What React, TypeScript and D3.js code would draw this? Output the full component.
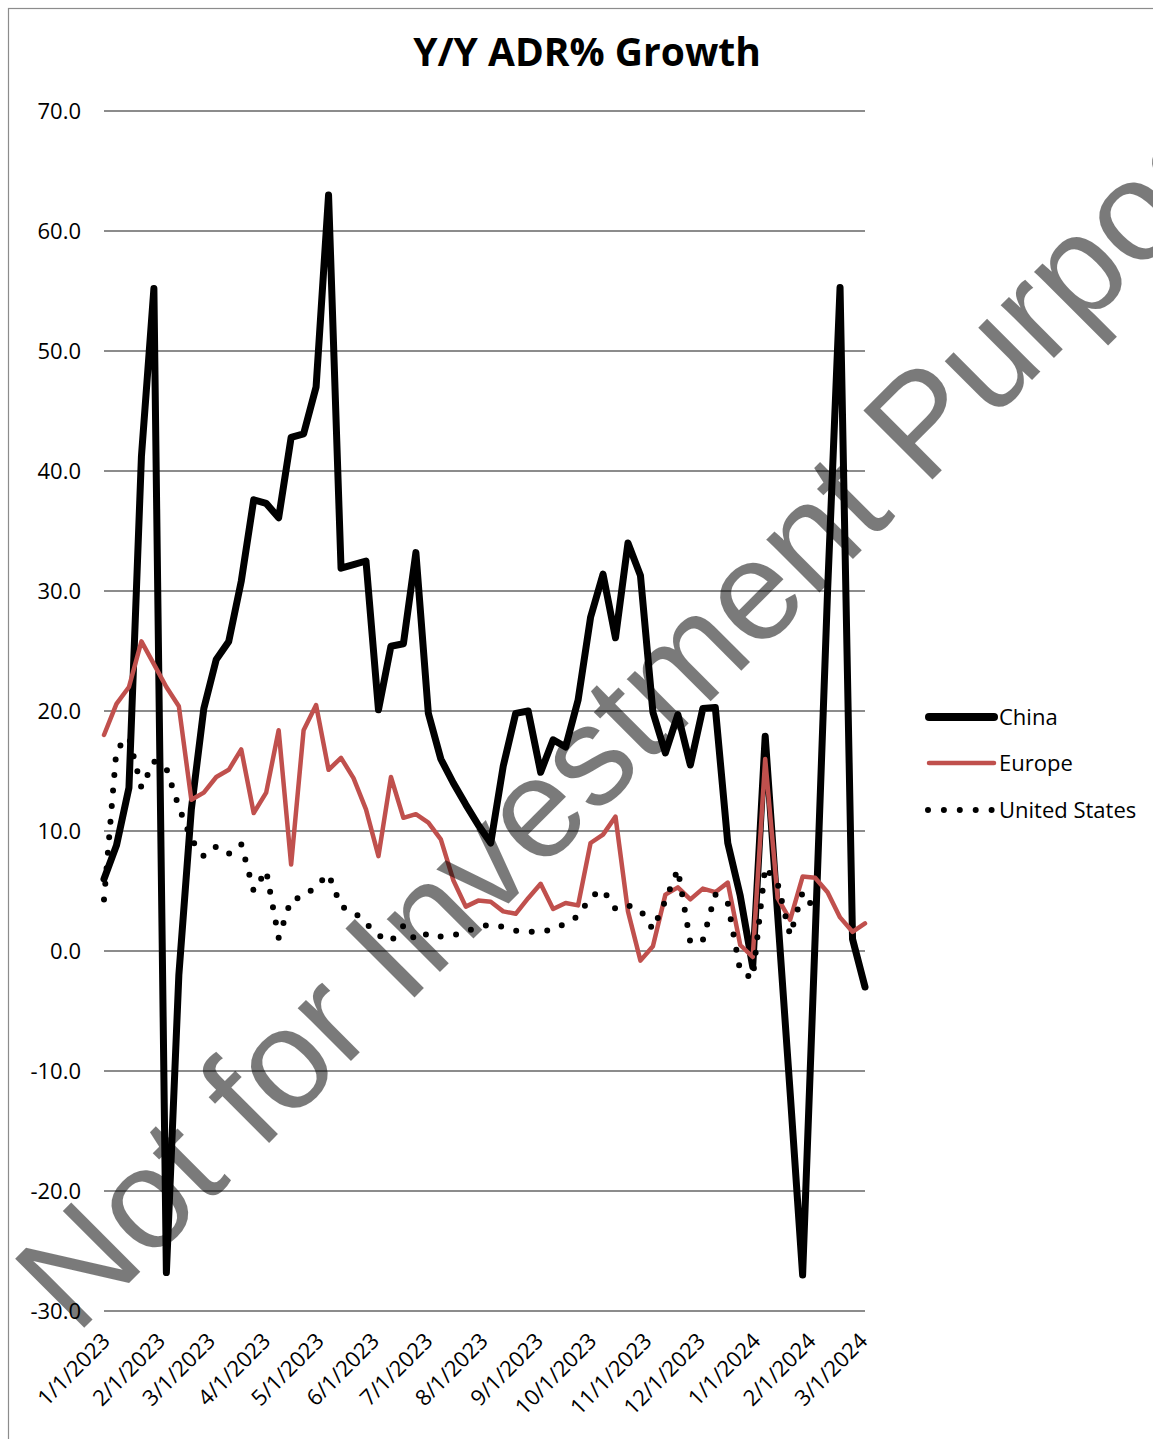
import React from "react";
import * as d3 from "d3";

// Weekly observation dates (week starting)
const weeks: string[] = [
  "2023-01-01", "2023-01-08", "2023-01-15", "2023-01-22", "2023-01-29",
  "2023-02-05", "2023-02-12", "2023-02-19", "2023-02-26",
  "2023-03-05", "2023-03-12", "2023-03-19", "2023-03-26",
  "2023-04-02", "2023-04-09", "2023-04-16", "2023-04-23", "2023-04-30",
  "2023-05-07", "2023-05-14", "2023-05-21", "2023-05-28",
  "2023-06-04", "2023-06-11", "2023-06-18", "2023-06-25",
  "2023-07-02", "2023-07-09", "2023-07-16", "2023-07-23", "2023-07-30",
  "2023-08-06", "2023-08-13", "2023-08-20", "2023-08-27",
  "2023-09-03", "2023-09-10", "2023-09-17", "2023-09-24",
  "2023-10-01", "2023-10-08", "2023-10-15", "2023-10-22", "2023-10-29",
  "2023-11-05", "2023-11-12", "2023-11-19", "2023-11-26",
  "2023-12-03", "2023-12-10", "2023-12-17", "2023-12-24", "2023-12-31",
  "2024-01-07", "2024-01-14", "2024-01-21", "2024-01-28",
  "2024-02-04", "2024-02-11", "2024-02-18", "2024-02-25",
  "2024-03-03",
];

// Y/Y ADR growth, %
const china: number[] = [
  6.0, 8.8, 13.6, 41.2, 55.2, -26.8, -2.0, 11.8, 20.2,
  24.3, 25.8, 30.8, 37.6, 37.3, 36.1, 42.8, 43.1, 47.0,
  63.0, 31.9, 32.2, 32.5, 20.1, 25.4, 25.6, 33.2,
  19.8, 16.0, 14.0, 12.2, 10.5, 9.0, 15.4, 19.8, 20.0,
  14.9, 17.6, 17.0, 20.9, 27.8, 31.4, 26.1, 34.0, 31.3,
  19.9, 16.5, 19.7, 15.5, 20.2, 20.3, 9.0, 4.6, -1.3,
  17.9, 3.0, -11.8, -27.0, 1.0, 30.0, 55.3, 1.0, -3.0,
];

const europe: number[] = [
  18.0, 20.6, 22.0, 25.8, 23.9, 22.0, 20.4, 12.6, 13.2,
  14.5, 15.1, 16.8, 11.5, 13.2, 18.4, 7.2, 18.4, 20.5,
  15.1, 16.1, 14.4, 11.8, 7.9, 14.5, 11.1, 11.4,
  10.7, 9.3, 5.9, 3.7, 4.2, 4.1, 3.3, 3.1, 4.4,
  5.6, 3.5, 4.0, 3.8, 9.0, 9.7, 11.2, 3.3, -0.8,
  0.4, 4.7, 5.3, 4.3, 5.2, 4.9, 5.7, 0.5, -0.5,
  16.0, 4.4, 2.6, 6.2, 6.1, 4.9, 2.8, 1.6, 2.3,
];

const unitedStates: number[] = [
  4.3, 16.8, 17.8, 13.6, 15.8, 15.2, 12.0, 9.3, 7.9,
  8.7, 8.1, 8.9, 5.0, 6.7, 1.1, 4.3, 4.5, 5.4,
  6.4, 3.7, 3.3, 2.3, 1.3, 0.8, 2.1, 0.9,
  1.5, 1.2, 1.3, 1.6, 2.0, 2.2, 2.0, 1.7, 1.6,
  1.6, 1.8, 2.3, 2.9, 4.5, 5.1, 3.5, 3.8, 3.4,
  1.8, 4.2, 6.8, 0.7, 0.9, 4.7, 4.0, -1.7, -2.3,
  7.0, 5.6, 1.3, 4.9, 3.4,
];

const monthLabels: string[] = [
  "1/1/2023", "2/1/2023", "3/1/2023", "4/1/2023", "5/1/2023",
  "6/1/2023", "7/1/2023", "8/1/2023", "9/1/2023", "10/1/2023",
  "11/1/2023", "12/1/2023", "1/1/2024", "2/1/2024", "3/1/2024",
];

const yTicks: number[] = [70, 60, 50, 40, 30, 20, 10, 0, -10, -20, -30];

const seriesNames = ["China", "Europe", "United States"];

const W = 1153;
const H = 1439;
const FONT = "'Open Sans', 'Noto Sans', sans-serif";
const RED = "#C0504D";

function parseMDY(s: string): Date {
  const [m, d, y] = s.split("/").map(Number);
  return new Date(y, m - 1, d);
}

// one decimal, plain hyphen for negatives
const fmt = (v: number) => d3.format(".1f")(v).replace("\u2212", "-");

export default function App() {
  const parse = d3.timeParse("%Y-%m-%d");
  const dates = weeks.map((w) => parse(w) as Date);

  const x = d3
    .scaleTime()
    .domain([dates[0], dates[dates.length - 1]])
    .range([104, 865]);
  const y = d3.scaleLinear().domain([-30, 70]).range([1311, 111]);

  const path = (vals: number[]) =>
    d3
      .line<number>()
      .x((_, i) => x(dates[i]))
      .y((v) => y(v))(vals) || "";

  const [x0, x1] = x.range();
  const legendY = [717, 763, 810];

  return (
    <svg
      width={W}
      height={H}
      viewBox={`0 0 ${W} ${H}`}
      style={{ position: "absolute", left: 0, top: 0, display: "block", background: "#fff" }}
      fontFamily={FONT}
    >
      <rect x={0} y={0} width={W} height={H} fill="#fff" />
      <rect x={8.5} y={8.5} width={W + 40} height={H + 40} fill="none" stroke="#8c8c8c" strokeWidth={1.2} />

      <text x={587} y={66} textAnchor="middle" fontSize={39} fontWeight={700} fill="#000">
        Y/Y ADR% Growth
      </text>

      {/* gridlines and value labels */}
      {yTicks.map((t) => (
        <g key={t}>
          <line x1={x0} x2={x1} y1={y(t)} y2={y(t)} stroke="#8c8c8c" strokeWidth={1.8} />
          <text x={81} y={y(t)} dy="0.35em" textAnchor="end" fontSize={22} fill="#000">
            {fmt(t)}
          </text>
        </g>
      ))}

      {/* date labels */}
      {monthLabels.map((m) => {
        const px = x(parseMDY(m));
        return (
          <text
            key={m}
            transform={`translate(${px + 2},${1337}) rotate(-45)`}
            textAnchor="end"
            dy="0.35em"
            fontSize={22}
            fill="#000"
          >
            {m}
          </text>
        );
      })}

      {/* series */}
      <path d={path(china)} fill="none" stroke="#000" strokeWidth={7} strokeLinejoin="round" strokeLinecap="round" />
      <path d={path(europe)} fill="none" stroke={RED} strokeWidth={4.5} strokeLinejoin="round" strokeLinecap="round" />
      <path
        d={path(unitedStates)}
        fill="none"
        stroke="#000"
        strokeWidth={6}
        strokeLinecap="round"
        strokeDasharray="0 15.6"
      />

      {/* legend */}
      <line x1={929} x2={994} y1={legendY[0]} y2={legendY[0]} stroke="#000" strokeWidth={8} strokeLinecap="round" />
      <line x1={929} x2={994} y1={legendY[1]} y2={legendY[1]} stroke={RED} strokeWidth={4.5} strokeLinecap="round" />
      <line
        x1={928}
        x2={994}
        y1={legendY[2]}
        y2={legendY[2]}
        stroke="#000"
        strokeWidth={6}
        strokeLinecap="round"
        strokeDasharray="0 15.9"
      />
      {seriesNames.map((s, i) => (
        <text key={s} x={999} y={legendY[i]} dy="0.35em" fontSize={22} fill="#000">
          {s}
        </text>
      ))}

      {/* watermark */}
      <text
        transform="translate(76,1336) rotate(-45)"
        fontFamily="'Liberation Sans', Arial, sans-serif"
        fontSize={142}
        fill="#000"
        fillOpacity={0.52}
      >
        Not for Investment Purposes
      </text>
    </svg>
  );
}
